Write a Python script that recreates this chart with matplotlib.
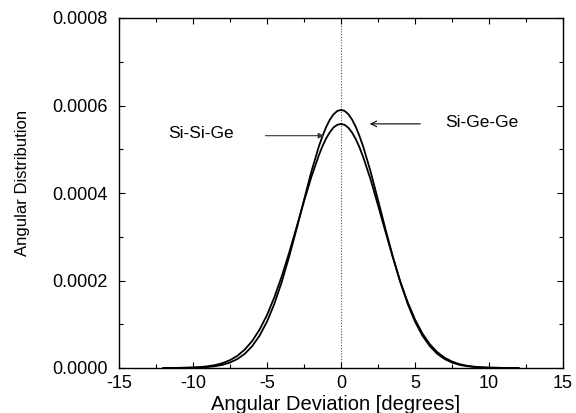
import matplotlib
matplotlib.use("Agg")
import matplotlib.pyplot as plt
from matplotlib.ticker import MultipleLocator, FormatStrFormatter

plt.rcParams['font.family'] = ['Liberation Sans', 'DejaVu Sans']
plt.rcParams['axes.unicode_minus'] = False

# Angular deviation [degrees]
angles = [-12, -11, -10, -9.5, -9, -8.5, -8, -7.5, -7, -6.5, -6, -5.5, -5, -4.5, -4,
          -3.5, -3, -2.5, -2, -1.5, -1.25, -1, -0.75, -0.5, -0.25, 0,
          0.25, 0.5, 0.75, 1, 1.25, 1.5, 2, 2.5, 3, 3.5, 4,
          4.5, 5, 5.5, 6, 6.5, 7, 7.5, 8, 8.5, 9, 9.5, 10, 11, 12]

# Angular distribution, values read in units of 1e-6
si_ge_ge = [0.03, 0.15, 0.6, 1.2, 2.3, 4.2, 7.3, 12.5, 20.5, 32.5, 50.0, 74.1, 106, 147, 197,
            255, 318, 384, 449, 506, 530, 551, 567.7, 580, 587.5, 590,
            587.5, 580, 567.7, 551, 530, 506, 449, 384, 318, 255, 197,
            147, 106, 74.1, 50.0, 32.5, 20.5, 12.5, 7.3, 4.2, 2.3, 1.2, 0.6, 0.15, 0.03]

si_si_ge = [0.08, 0.34, 1.2, 2.2, 4.0, 6.7, 11.2, 17.9, 27.9, 42.2, 61.8, 87.8, 121, 162, 210,
            264, 322, 381, 437, 486, 507.2, 525, 539.1, 550, 555.9, 558,
            555.7, 549, 538.1, 523, 504.4, 482, 431, 372, 312, 253, 198,
            151, 111, 78.9, 54.4, 36.3, 23.5, 14.7, 8.9, 5.2, 3.0, 1.6, 0.9, 0.2, 0.05]

xticks = [-15, -10, -5, 0, 5, 10, 15]
yticks = [0.0, 0.0002, 0.0004, 0.0006, 0.0008]

fig = plt.figure(figsize=(5.76, 4.13), dpi=100)
ax = fig.add_axes([119/576, 1-368/413, (563-119)/576, (368-18)/413])

ax.axvline(0, color='#555555', linestyle=(0, (1, 1.5)), linewidth=0.8, zorder=1)
ax.plot(angles, [v * 1e-6 for v in si_ge_ge], color='black', linewidth=1.3, zorder=3)
ax.plot(angles, [v * 1e-6 for v in si_si_ge], color='black', linewidth=1.3, zorder=3)

ax.set_xlim(-15, 15)
ax.set_ylim(0, 0.0008)
ax.set_xticks(xticks)
ax.set_yticks(yticks)
ax.xaxis.set_minor_locator(MultipleLocator(2.5))
ax.yaxis.set_minor_locator(MultipleLocator(0.0001))
ax.yaxis.set_major_formatter(FormatStrFormatter('%.4f'))
ax.tick_params(which='both', direction='in', top=True, right=True, width=0.8)
ax.tick_params(which='major', length=4, labelsize=13)
ax.tick_params(axis='x', which='major', pad=5)
ax.tick_params(axis='y', which='major', pad=8)
ax.tick_params(which='minor', length=3)
for s in ax.spines.values():
    s.set_linewidth(1.0)

ax.set_xlabel('Angular Deviation [degrees]', fontsize=14.5, va='center', ha='center')
ax.xaxis.set_label_coords((336-119)/(563-119), -(404-368)/(368-18))
ax.set_ylabel('Angular Distribution', fontsize=12, va='center', ha='center')
ax.yaxis.set_label_coords(-(119-23)/(563-119), (368-183)/(368-18))

# annotations
ax.annotate('', xy=(1.76, 0.000558), xytext=(5.54, 0.000558),
            arrowprops=dict(arrowstyle='->', color='black', lw=0.8, mutation_scale=10))
ax.text(7.03, 0.000562, 'Si-Ge-Ge', fontsize=12.5, va='center', ha='left')
ax.annotate('', xy=(-0.97, 0.000531), xytext=(-5.29, 0.000531),
            arrowprops=dict(arrowstyle='-|>', color='#333333', lw=0.8, mutation_scale=8))
ax.text(-11.7, 0.000537, 'Si-Si-Ge', fontsize=12.5, va='center', ha='left')

fig.savefig('out.png', dpi=100)
